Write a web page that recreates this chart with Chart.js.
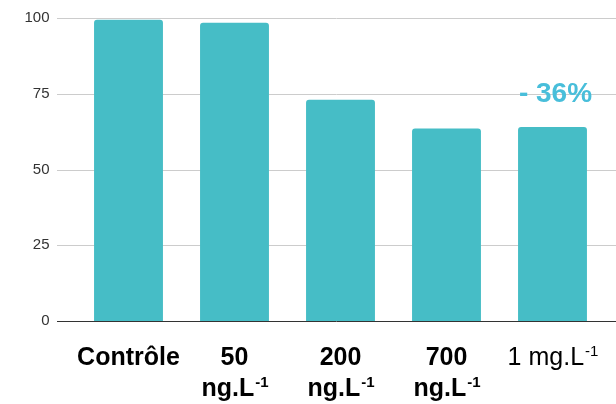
<!DOCTYPE html>
<html>
<head>
<meta charset="utf-8">
<script src="https://cdn.jsdelivr.net/npm/chart.js@4.4.1/dist/chart.umd.min.js"></script>
<style>
  html, body { margin: 0; padding: 0; background: #fff; }
  #wrap { width: 616px; height: 404px; }
</style>
</head>
<body>
<div id="wrap"><canvas id="c" width="616" height="404"></canvas></div>
<script>
// Category labels: each entry is a list of lines; "^" marks a superscript part
const categories = [['Contrôle'], ['50', 'ng.L^-1'], ['200', 'ng.L^-1'], ['700', 'ng.L^-1'], ['1 mg.L^-1']];
const boldLabels = [true, true, true, true, false];
const values = [99.4, 98.4, 73.0, 63.5, 64.0];
const yTicks = [0, 25, 50, 75, 100];
const noteText = '- 36%';
const noteIndex = 4;

const FONT = '"Liberation Sans", Arial, sans-serif';
const BAR = '#46BDC6';

// Horizontal grid lines, running past the plot area on both sides
const gridPlugin = {
  id: 'wideGrid',
  beforeDatasetsDraw(chart) {
    const { ctx } = chart;
    const y = chart.scales.y;
    ctx.save();
    ctx.lineWidth = 1;
    yTicks.forEach(v => {
      const py = Math.round(y.getPixelForValue(v)) + 0.5;
      ctx.strokeStyle = v === 0 ? '#333333' : '#cccccc';
      ctx.beginPath();
      ctx.moveTo(57, py);
      ctx.lineTo(616, py);
      ctx.stroke();
    });
    ctx.restore();
  }
};

// Category labels with superscript units and the reduction note
const labelPlugin = {
  id: 'catLabels',
  afterDraw(chart) {
    const { ctx } = chart;
    const x = chart.scales.x;
    const y = chart.scales.y;
    const size = 25;
    const supSize = 15;
    const lineGap = 31;
    const firstBase = 365;
    ctx.save();
    ctx.fillStyle = '#000';
    ctx.textBaseline = 'alphabetic';
    ctx.textAlign = 'left';
    categories.forEach((lines, i) => {
      const cx = x.getPixelForTick(i);
      const w = boldLabels[i] ? 'bold ' : '';
      lines.forEach((line, j) => {
        const parts = line.split('^');
        const main = parts[0];
        const sup = parts[1] || '';
        ctx.font = w + size + 'px ' + FONT;
        const mw = ctx.measureText(main).width;
        ctx.font = w + supSize + 'px ' + FONT;
        const sw = sup ? ctx.measureText(sup).width : 0;
        const start = cx - (mw + sw) / 2;
        const base = firstBase + j * lineGap;
        ctx.font = w + size + 'px ' + FONT;
        ctx.fillText(main, start, base);
        if (sup) {
          ctx.font = w + supSize + 'px ' + FONT;
          ctx.fillText(sup, start + mw + 1, base - 9);
        }
      });
    });
    // reduction note above the last bar
    ctx.font = 'bold 28px ' + FONT;
    ctx.fillStyle = '#48BEDA';
    ctx.textAlign = 'center';
    ctx.fillText(noteText, x.getPixelForTick(noteIndex) + 3, y.getPixelForValue(values[noteIndex]) - 25);
    ctx.restore();
  }
};

new Chart(document.getElementById('c'), {
  type: 'bar',
  data: {
    labels: categories.map(l => l.join(' ')),
    datasets: [{
      data: values,
      backgroundColor: BAR,
      borderRadius: { topLeft: 3, topRight: 3, bottomLeft: 0, bottomRight: 0 },
      borderSkipped: 'bottom',
      barPercentage: 0.65,
      categoryPercentage: 1.0
    }]
  },
  options: {
    responsive: false,
    animation: false,
    events: [],
    layout: { padding: { top: 18, right: 10.5, bottom: 83, left: 0 } },
    plugins: { legend: { display: false }, tooltip: { enabled: false } },
    scales: {
      x: {
        display: false,
        offset: true
      },
      y: {
        min: 0,
        max: 100,
        afterBuildTicks(scale) { scale.ticks = yTicks.map(v => ({ value: v })); },
        afterFit(scale) {
          scale.width = 75.5;
          scale.paddingTop = 0;
          scale.paddingBottom = 0;
        },
        grid: { display: false },
        border: { display: false },
        ticks: {
          padding: 18,
          color: '#333333',
          font: { family: FONT, size: 15 }
        }
      }
    }
  },
  plugins: [gridPlugin, labelPlugin]
});
</script>
</body>
</html>
